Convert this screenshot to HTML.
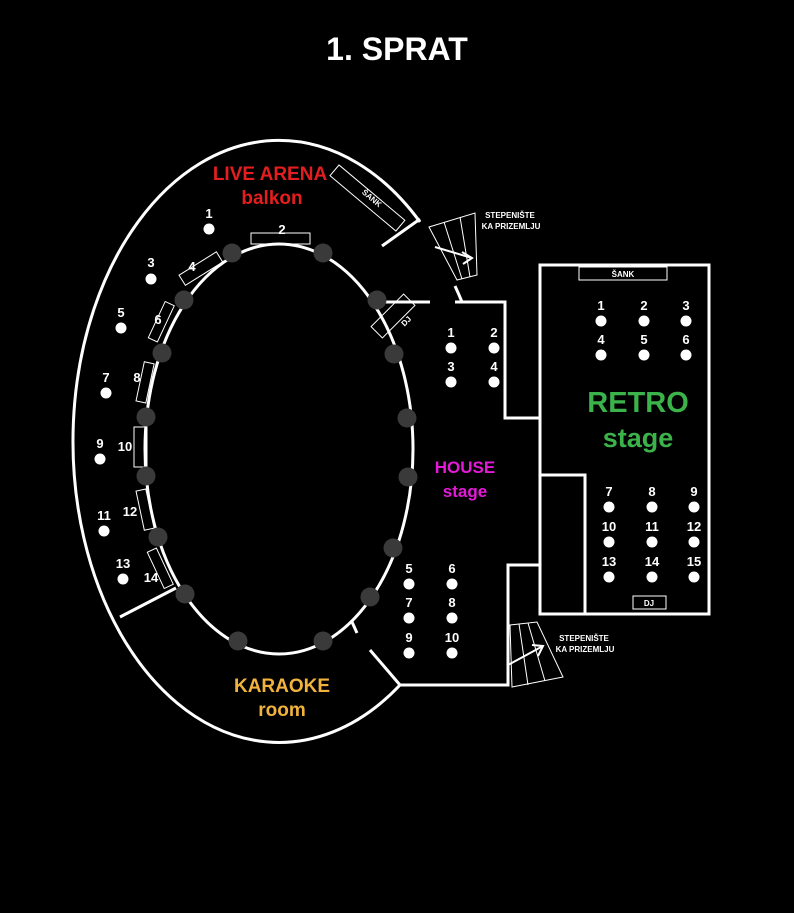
<!DOCTYPE html>
<html><head><meta charset="utf-8"><style>
html,body{margin:0;padding:0;background:#000;}
svg{display:block;}
text{font-family:"Liberation Sans",sans-serif;font-weight:bold;}
</style></head><body>
<svg width="794" height="913" viewBox="0 0 794 913" xmlns="http://www.w3.org/2000/svg">
<rect width="794" height="913" fill="#000"/>
<text x="397" y="60" font-size="32" fill="#fff" text-anchor="middle">1. SPRAT</text>
<g fill="none" stroke="#fff" stroke-width="3">
<path d="M400,685 A206,301 0 1 1 420,222"/>
<path d="M455,286 A206,301 0 0 1 462,302"/>
<ellipse cx="279" cy="449" rx="134" ry="205"/>
<line x1="382" y1="246" x2="420" y2="219"/>
<line x1="377" y1="302" x2="430" y2="302"/>
<polyline points="455,302 505,302 505,418 540,418"/>
<rect x="540" y="265" width="169" height="349"/>
<polyline points="540,614 540,475 585,475 585,614"/>
<polyline points="400,685 508,685 508,565 540,565"/>
<line x1="370" y1="650" x2="400" y2="685"/>
<line x1="120" y1="617" x2="176" y2="588"/>
<line x1="352" y1="622" x2="357" y2="633"/>
</g>
<g fill="none" stroke="#fff" stroke-width="1">
<rect x="579" y="267" width="88" height="13"/>
<rect x="633" y="596" width="33" height="13"/>
<rect x="251" y="233" width="59" height="11"/>
<rect x="339" y="165" width="86" height="14" transform="rotate(40 339 165)"/>
<rect x="-8" y="-23" width="16" height="46" transform="translate(393 316) rotate(45)"/>
<rect x="-10" y="-22" width="12" height="44" transform="translate(203 272) rotate(58)"/>
<rect x="-8" y="-20" width="10" height="40" transform="translate(164 323) rotate(25)"/>
<rect x="-8" y="-20" width="10" height="40" transform="translate(148 383) rotate(12)"/>
<rect x="134" y="427" width="13" height="40"/>
<rect x="-8" y="-20" width="10" height="40" transform="translate(148 509) rotate(-12)"/>
<rect x="-8" y="-20" width="10" height="40" transform="translate(163 567) rotate(-25)"/>
<polygon points="429,227 475,213 477,275 457,280"/>
<line x1="444" y1="222" x2="462" y2="279"/>
<line x1="460" y1="217" x2="470" y2="277"/>
<polygon points="510,625 537,622 563,677 512,687"/>
<line x1="519" y1="624" x2="528" y2="685"/>
<line x1="528" y1="623" x2="545" y2="681"/>
</g>
<g stroke="#fff" stroke-width="2" fill="none">
<line x1="435" y1="247" x2="472" y2="258"/>
<polyline points="462,252 472,258 463,264"/>
<line x1="508" y1="665" x2="543" y2="646"/>
<polyline points="532,645 543,646 538,656"/>
</g>
<g fill="#3a3a3a">
<circle cx="232" cy="253" r="9.5"/><circle cx="323" cy="253" r="9.5"/><circle cx="377" cy="300" r="9.5"/>
<circle cx="394" cy="354" r="9.5"/><circle cx="407" cy="418" r="9.5"/><circle cx="408" cy="477" r="9.5"/>
<circle cx="393" cy="548" r="9.5"/><circle cx="370" cy="597" r="9.5"/><circle cx="323" cy="641" r="9.5"/>
<circle cx="238" cy="641" r="9.5"/><circle cx="185" cy="594" r="9.5"/><circle cx="158" cy="537" r="9.5"/>
<circle cx="146" cy="476" r="9.5"/><circle cx="146" cy="417" r="9.5"/><circle cx="162" cy="353" r="9.5"/>
<circle cx="184" cy="300" r="9.5"/>
</g>
<g fill="#fff">
<circle cx="209" cy="229" r="5.5"/><circle cx="151" cy="279" r="5.5"/><circle cx="121" cy="328" r="5.5"/>
<circle cx="106" cy="393" r="5.5"/><circle cx="100" cy="459" r="5.5"/><circle cx="104" cy="531" r="5.5"/>
<circle cx="123" cy="579" r="5.5"/>
<circle cx="451" cy="348" r="5.5"/><circle cx="494" cy="348" r="5.5"/><circle cx="451" cy="382" r="5.5"/><circle cx="494" cy="382" r="5.5"/>
<circle cx="409" cy="584" r="5.5"/><circle cx="452" cy="584" r="5.5"/><circle cx="409" cy="618" r="5.5"/><circle cx="452" cy="618" r="5.5"/>
<circle cx="409" cy="653" r="5.5"/><circle cx="452" cy="653" r="5.5"/>
<circle cx="601" cy="321" r="5.5"/><circle cx="644" cy="321" r="5.5"/><circle cx="686" cy="321" r="5.5"/>
<circle cx="601" cy="355" r="5.5"/><circle cx="644" cy="355" r="5.5"/><circle cx="686" cy="355" r="5.5"/>
<circle cx="609" cy="507" r="5.5"/><circle cx="652" cy="507" r="5.5"/><circle cx="694" cy="507" r="5.5"/>
<circle cx="609" cy="542" r="5.5"/><circle cx="652" cy="542" r="5.5"/><circle cx="694" cy="542" r="5.5"/>
<circle cx="609" cy="577" r="5.5"/><circle cx="652" cy="577" r="5.5"/><circle cx="694" cy="577" r="5.5"/>
</g>
<g fill="#fff" font-size="13" text-anchor="middle">
<text x="209" y="218">1</text><text x="282" y="234">2</text><text x="151" y="267">3</text><text x="192" y="271">4</text>
<text x="121" y="317">5</text><text x="158" y="324">6</text><text x="106" y="382">7</text><text x="137" y="382">8</text>
<text x="100" y="448">9</text><text x="125" y="451">10</text><text x="104" y="520">11</text><text x="130" y="516">12</text>
<text x="123" y="568">13</text><text x="151" y="582">14</text>
<text x="451" y="337">1</text><text x="494" y="337">2</text><text x="451" y="371">3</text><text x="494" y="371">4</text>
<text x="409" y="573">5</text><text x="452" y="573">6</text><text x="409" y="607">7</text><text x="452" y="607">8</text>
<text x="409" y="642">9</text><text x="452" y="642">10</text>
<text x="601" y="310">1</text><text x="644" y="310">2</text><text x="686" y="310">3</text>
<text x="601" y="344">4</text><text x="644" y="344">5</text><text x="686" y="344">6</text>
<text x="609" y="496">7</text><text x="652" y="496">8</text><text x="694" y="496">9</text>
<text x="609" y="531">10</text><text x="652" y="531">11</text><text x="694" y="531">12</text>
<text x="609" y="566">13</text><text x="652" y="566">14</text><text x="694" y="566">15</text>
</g>
<g fill="#fff" font-size="8" text-anchor="middle">
<text x="623" y="277">ŠANK</text><text x="649" y="606">DJ</text>
<text x="0" y="3" transform="translate(372 198) rotate(40)">ŠANK</text>
<text x="0" y="3" transform="translate(406 321) rotate(-45)">DJ</text>
<text x="510" y="218">STEPENIŠTE</text><text x="511" y="229">KA PRIZEMLJU</text>
<text x="584" y="641">STEPENIŠTE</text><text x="585" y="652">KA PRIZEMLJU</text>
</g>
<g text-anchor="middle">
<text x="270" y="180" font-size="19" fill="#e41e1e">LIVE ARENA</text>
<text x="272" y="204" font-size="19" fill="#e41e1e">balkon</text>
<text x="465" y="473" font-size="17" fill="#e41ad8">HOUSE</text>
<text x="465" y="497" font-size="17" fill="#e41ad8">stage</text>
<text x="638" y="412" font-size="29" fill="#3bb34a">RETRO</text>
<text x="638" y="447" font-size="27" fill="#3bb34a">stage</text>
<text x="282" y="692" font-size="19" fill="#f2b33d">KARAOKE</text>
<text x="282" y="716" font-size="19" fill="#f2b33d">room</text>
</g>
</svg>
</body></html>
